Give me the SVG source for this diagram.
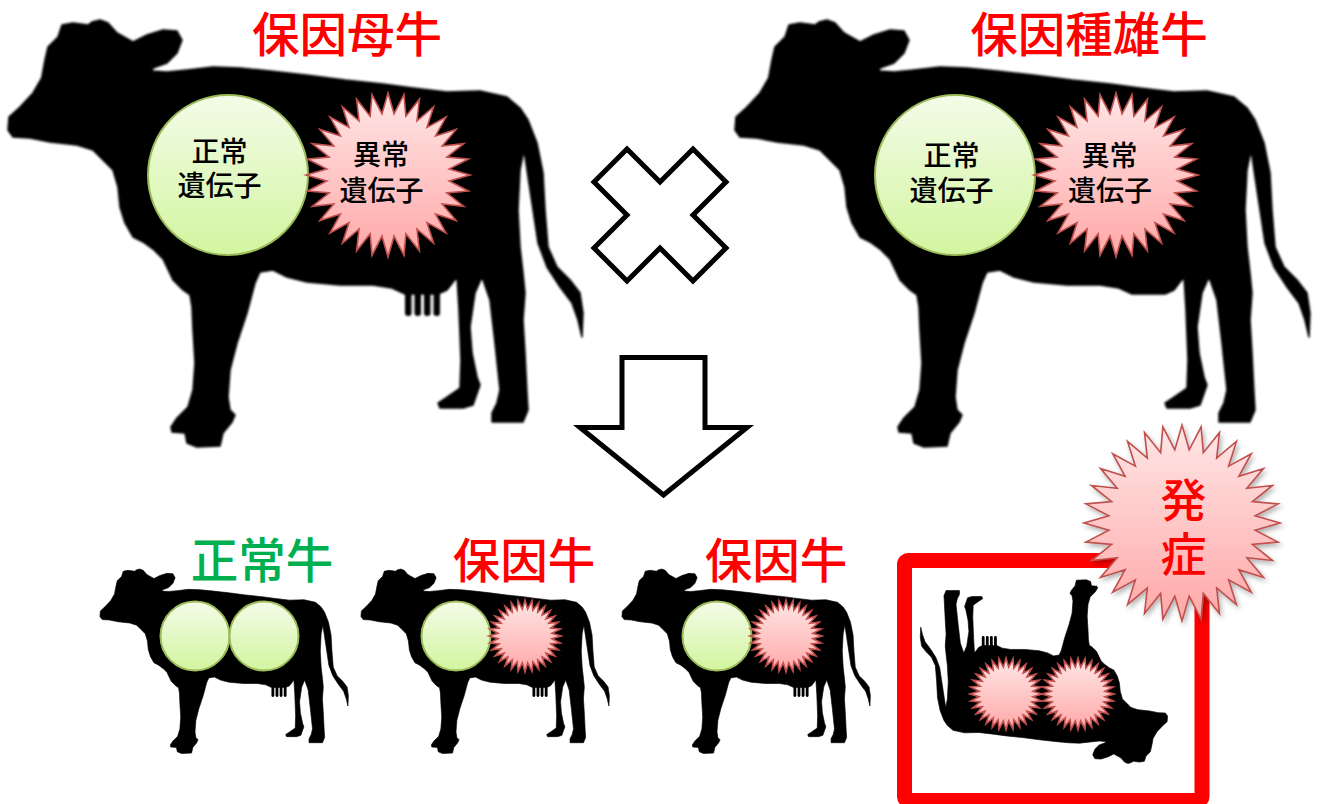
<svg xmlns="http://www.w3.org/2000/svg" xmlns:xlink="http://www.w3.org/1999/xlink" width="1322" height="804" viewBox="0 0 1322 804">
  <style>
    text { font-family: "Noto Sans CJK JP", "Noto Sans CJK SC", sans-serif; text-anchor: middle; font-weight: 500; }
    .title { font-size: 47.5px; fill: #FF0000; }
    .label-red { font-size: 47.5px; fill: #FF0000; }
    .label-green { font-size: 47.5px; fill: #00B050; }
    .gene { font-size: 28px; fill: #000000; }
    .onset { font-size: 46px; fill: #FF0000; }
    .normal { fill: url(#gGreen); stroke: #9BBB59; stroke-width: 2; }
    .mutant { fill: url(#gRed); stroke: #C0504D; stroke-width: 1.6; }
    .silhouette { fill: #000000; stroke: #000000; stroke-width: 1.5; stroke-linejoin: round; }
    .outline { fill: #FFFFFF; stroke: #000000; stroke-width: 5; stroke-linejoin: miter; }
  </style>
  <defs>
    <linearGradient id="gGreen" x1="0" y1="0" x2="0" y2="1">
      <stop offset="0" stop-color="#F3FCE8"/>
      <stop offset="1" stop-color="#D3F5A0"/>
    </linearGradient>
    <linearGradient id="gRed" x1="0" y1="0" x2="0" y2="1">
      <stop offset="0" stop-color="#FFE6E6"/>
      <stop offset="1" stop-color="#FFA8A8"/>
    </linearGradient>
    <filter id="soft" x="-5%" y="-5%" width="110%" height="110%">
      <feGaussianBlur stdDeviation="0.9"/>
    </filter>
    <filter id="burstShadow" x="-20%" y="-20%" width="140%" height="140%">
      <feDropShadow dx="2" dy="3" stdDeviation="2.5" flood-color="#000000" flood-opacity="0.3"/>
    </filter>
    <!-- 32-point star, outer radius 100, inner radius 75 -->
    <polygon id="star32" vector-effect="non-scaling-stroke" points="0,-100 7.35,-74.64 19.51,-98.08 21.77,-71.77 38.27,-92.39 35.36,-66.14 55.56,-83.15 47.58,-57.98 70.71,-70.71 57.98,-47.58 83.15,-55.56 66.14,-35.36 92.39,-38.27 71.77,-21.77 98.08,-19.51 74.64,-7.35 100,0 74.64,7.35 98.08,19.51 71.77,21.77 92.39,38.27 66.14,35.36 83.15,55.56 57.98,47.58 70.71,70.71 47.58,57.98 55.56,83.15 35.36,66.14 38.27,92.39 21.77,71.77 19.51,98.08 7.35,74.64 0,100 -7.35,74.64 -19.51,98.08 -21.77,71.77 -38.27,92.39 -35.36,66.14 -55.56,83.15 -47.58,57.98 -70.71,70.71 -57.98,47.58 -83.15,55.56 -66.14,35.36 -92.39,38.27 -71.77,21.77 -98.08,19.51 -74.64,7.35 -100,0 -74.64,-7.35 -98.08,-19.51 -71.77,-21.77 -92.39,-38.27 -66.14,-35.36 -83.15,-55.56 -57.98,-47.58 -70.71,-70.71 -47.58,-57.98 -55.56,-83.15 -35.36,-66.14 -38.27,-92.39 -21.77,-71.77 -19.51,-98.08 -7.35,-74.64"/>
    <!-- cow silhouette, facing left -->
    <path id="cowBody" class="silhouette" d="M9,117 L20,107 L33,93 L41.7,78 L45,60 L48,47 L58,37 L62,25 L73,23 L88,25 L92,22 L100,20 L108,23 L117,33 L133,42 L147,35 L163,30 L177,31 L182,40 L177,53 L167,63 L153,68 L152,71 L167,72 L187,70 L213,67 L240,68 L270,71 L306,75 L345,80 L383,84 L413,88 L447,92 L480,91 L507,97 L520,108 L528,120 L537,143 L543,173 L545,210 L548,247 L557,267 L570,280 L580,293 L583,313 L582,337 L578,320 L572,303 L560,287 L547,267 L538,243 L533,210 L528,177 L524,150 L520,170 L518,210 L520,247 L523,273 L525,293 L523,320 L525,353 L527,393 L528,410 L523,422 L492,422 L492,413 L497,403 L500,390 L495,343 L490,300 L482,277 L475,293 L470,327 L472,353 L477,377 L480,385 L473,405 L463,408 L440,408 L438,403 L447,397 L460,388 L461,360 L459,310 L457,277 L447,290 L438,294 L405,294 L392,288 L373,285 L340,285 L307,282 L287,277 L273,270 L260,272 L255,283 L247,313 L237,343 L230,370 L228,397 L230,410 L235,415 L232,422 L223,433 L220,446 L197,447 L187,443 L185,433 L172,432 L171,427 L177,418 L188,407 L193,390 L195,363 L193,330 L192,307 L190,295 L183,290 L173,280 L163,259 L154,250 L143,242 L133,237 L125,223 L120,207 L118,187 L113,170 L103,160 L93,150 L77,145 L50,142 L30,138 L13,137 L8,130 Z"/>
    <g id="cowCow">
      <use xlink:href="#cowBody" href="#cowBody"/>
      <rect x="405" y="286" width="6.5" height="30" rx="3" fill="#000"/>
      <rect x="414.5" y="286" width="6.5" height="30" rx="3" fill="#000"/>
      <rect x="424" y="286" width="6.5" height="30" rx="3" fill="#000"/>
      <rect x="433.5" y="286" width="6.5" height="30" rx="3" fill="#000"/>
    </g>
  </defs>

  <rect x="0" y="0" width="1322" height="804" fill="#FFFFFF"/>

  <!-- carrier dam -->
  <g id="carrier-dam">
    <use href="#cowCow" filter="url(#soft)"/>
    <circle class="normal" cx="228" cy="175" r="80"/>
    <use href="#star32" class="mutant" transform="translate(388 175) scale(0.82)"/>
    <text class="gene" x="219.5" y="161.5">正常</text>
    <text class="gene" x="219.5" y="196">遺伝子</text>
    <text class="gene" x="381" y="165">異常</text>
    <text class="gene" x="381.5" y="200.5">遺伝子</text>
    <text class="title" x="347" y="52">保因母牛</text>
  </g>

  <!-- carrier sire -->
  <g id="carrier-sire">
    <use href="#cowBody" transform="translate(727 0)" filter="url(#soft)"/>
    <circle class="normal" cx="955" cy="175" r="80"/>
    <use href="#star32" class="mutant" transform="translate(1116 175) scale(0.82)"/>
    <text class="gene" x="951.5" y="165.5">正常</text>
    <text class="gene" x="951.5" y="200.5">遺伝子</text>
    <text class="gene" x="1109.5" y="165.5">異常</text>
    <text class="gene" x="1110" y="200.5">遺伝子</text>
    <text class="title" x="1089" y="52">保因種雄牛</text>
  </g>

  <!-- offspring: normal -->
  <g id="offspring-normal">
    <use href="#cowCow" transform="translate(96.5 560.4) scale(0.432)" filter="url(#soft)"/>
    <circle class="normal" cx="195" cy="636" r="34.5" stroke-width="1.6"/>
    <circle class="normal" cx="264" cy="636" r="34.5" stroke-width="1.6"/>
    <text class="label-green" x="262" y="578">正常牛</text>
  </g>

  <!-- offspring: carrier -->
  <g id="offspring-carrier-1">
    <use href="#cowCow" transform="translate(357.5 560.4) scale(0.432)" filter="url(#soft)"/>
    <circle class="normal" cx="456" cy="636" r="34.5" stroke-width="1.6"/>
    <use href="#star32" class="mutant" transform="translate(525 636) scale(0.36)" stroke-width="1.3"/>
    <text class="label-red" x="524" y="578">保因牛</text>
  </g>

  <!-- offspring: carrier -->
  <g id="offspring-carrier-2">
    <use href="#cowCow" transform="translate(618.5 560.4) scale(0.432)" filter="url(#soft)"/>
    <circle class="normal" cx="717" cy="636" r="34.5" stroke-width="1.6"/>
    <use href="#star32" class="mutant" transform="translate(786 636) scale(0.36)" stroke-width="1.3"/>
    <text class="label-red" x="776" y="578">保因牛</text>
  </g>

  <!-- offspring: affected (homozygous) -->
  <g id="offspring-affected">
    <rect x="904.5" y="560.5" width="297.5" height="240" rx="4" fill="none" stroke="#FF0000" stroke-width="15"/>
    <use href="#cowCow" transform="matrix(-0.43 0 0 -0.43 1171 772)" filter="url(#soft)"/>
    <use href="#star32" class="mutant" transform="translate(1006 694) scale(0.36)" stroke-width="1.3"/>
    <use href="#star32" class="mutant" transform="translate(1078 694) scale(0.36)" stroke-width="1.3"/>
  </g>

  <!-- onset burst -->
  <g id="onset">
    <use href="#star32" class="mutant" transform="translate(1182 523) scale(0.98)" filter="url(#burstShadow)"/>
    <text class="onset" x="1183.5" y="517">発</text>
    <text class="onset" x="1183.5" y="571">症</text>
  </g>

  <!-- cross and result arrow -->
  <g id="connectors">
    <polygon class="outline" points="660,182 693,149 726,182 693,215 726,248 693,281 660,248 627,281 594,248 627,215 594,182 627,149"/>
    <polygon class="outline" points="622,357.5 705,357.5 705,427.5 747,427.5 663.5,495 580,427.5 622,427.5"/>
  </g>
</svg>
